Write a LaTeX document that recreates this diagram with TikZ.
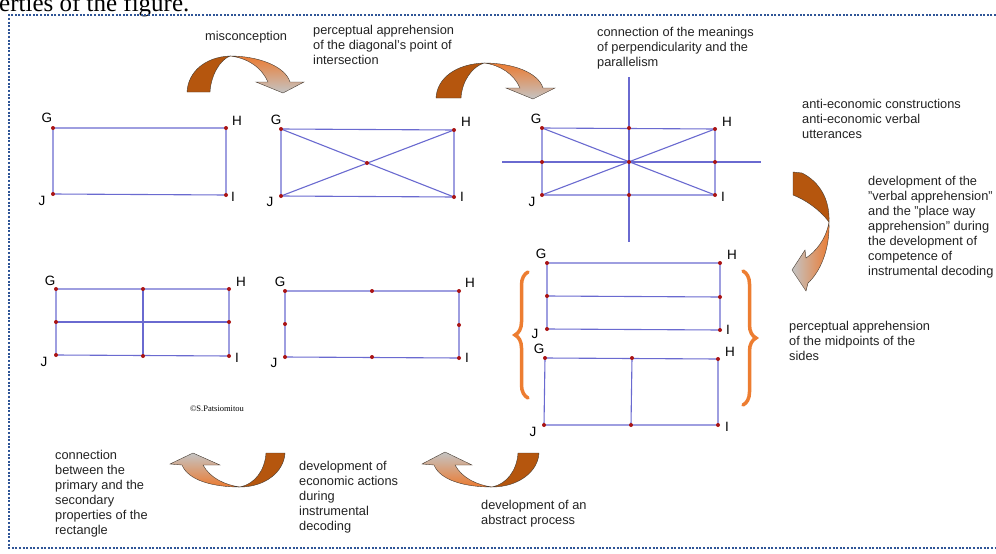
\documentclass[tikz,border=0pt]{standalone}
\usepackage{fontspec}
\setmainfont{Liberation Sans}
\newfontfamily\serifrm{Liberation Serif}
\usetikzlibrary{decorations.pathreplacing}
\definecolor{lineblue}{RGB}{106,106,208}
\definecolor{dotred}{RGB}{170,20,20}
\definecolor{darkorange}{RGB}{181,86,14}
\definecolor{midorange}{RGB}{235,122,48}
\definecolor{lightgray}{RGB}{196,196,196}
\definecolor{edgegray}{RGB}{70,60,50}
\definecolor{braceorange}{RGB}{237,125,49}
\definecolor{frameblue}{RGB}{47,85,151}
\definecolor{textgray}{RGB}{35,35,35}
\tikzstyle{side} = [draw=lineblue, line width=1.1pt]
\tikzstyle{dot} = [fill=dotred]
\tikzstyle{vtx} = [inner sep=0pt, font=\fontsize{13.5}{13.5}\selectfont]
\tikzstyle{note} = [anchor=north west, align=left, inner sep=0pt, text=textgray, font=\fontsize{12.8}{15}\selectfont]
\tikzstyle{band} = [fill=darkorange, draw=edgegray, line width=0.4pt]
\tikzstyle{headpart} = [draw=edgegray, line width=0.4pt]
\tikzstyle{curly} = [draw=braceorange, line width=3.5pt, line cap=round, decorate, decoration={brace, amplitude=13pt}]
\tikzstyle{outerframe} = [draw=frameblue, line width=2.8pt, dash pattern=on 2pt off 1.6pt]

\begin{document}
\begin{tikzpicture}[x=1pt, y=-1pt]

\clip (0,0) rectangle (996,554);
\fill [white] (0,0) rectangle (996,554);

\node (cut) [anchor=base west, inner sep=0pt, font=\serifrm\fontsize{25}{25}\selectfont] at (-1,11) {erties of the figure.};
\draw [outerframe] (996,15) -- (9,15) -- (9,548) -- (996,548);

\coordinate (g1) at (53,128);
\coordinate (h1) at (226,128);
\coordinate (i1) at (226,195);
\coordinate (j1) at (53,194);
\draw [side] (g1) -- (h1) -- (i1) -- (j1) -- cycle;
\fill [dot] (g1) circle [radius=2pt];
\fill [dot] (h1) circle [radius=2pt];
\fill [dot] (i1) circle [radius=2pt];
\fill [dot] (j1) circle [radius=2pt];
\node (lg1) [vtx] at (47,118) {G};
\node (lh1) [vtx] at (237,121) {H};
\node (li1) [vtx] at (233,197) {I};
\node (lj1) [vtx] at (42,201) {J};

\coordinate (g2) at (281,129);
\coordinate (h2) at (454,130);
\coordinate (i2) at (454,197);
\coordinate (j2) at (281,196);
\coordinate (m2) at (367,163);
\draw [side] (g2) -- (h2) -- (i2) -- (j2) -- cycle;
\draw [side] (g2) -- (i2);
\draw [side] (h2) -- (j2);
\fill [dot] (g2) circle [radius=2pt];
\fill [dot] (h2) circle [radius=2pt];
\fill [dot] (i2) circle [radius=2pt];
\fill [dot] (j2) circle [radius=2pt];
\fill [dot] (m2) circle [radius=2pt];
\node (lg2) [vtx] at (276,120) {G};
\node (lh2) [vtx] at (466,122) {H};
\node (li2) [vtx] at (462,197) {I};
\node (lj2) [vtx] at (270,202) {J};

\coordinate (g3) at (542,128);
\coordinate (h3) at (715,129);
\coordinate (i3) at (715,195);
\coordinate (j3) at (542,195);
\coordinate (m3) at (629,162);
\coordinate (t3) at (629,128);
\coordinate (b3) at (629,195);
\coordinate (l3) at (542,162);
\coordinate (r3) at (715,162);
\coordinate (vtop) at (629,77);
\coordinate (vbot) at (629,242);
\coordinate (hlft) at (502,162);
\coordinate (hrgt) at (761,162);
\draw [side] (g3) -- (h3) -- (i3) -- (j3) -- cycle;
\draw [side] (g3) -- (i3);
\draw [side] (h3) -- (j3);
\draw [side] (vtop) -- (vbot);
\draw [side] (hlft) -- (hrgt);
\fill [dot] (g3) circle [radius=2pt];
\fill [dot] (h3) circle [radius=2pt];
\fill [dot] (i3) circle [radius=2pt];
\fill [dot] (j3) circle [radius=2pt];
\fill [dot] (m3) circle [radius=2pt];
\fill [dot] (t3) circle [radius=2pt];
\fill [dot] (b3) circle [radius=2pt];
\fill [dot] (l3) circle [radius=2pt];
\fill [dot] (r3) circle [radius=2pt];
\node (lg3) [vtx] at (536,119) {G};
\node (lh3) [vtx] at (727,122) {H};
\node (li3) [vtx] at (723,197) {I};
\node (lj3) [vtx] at (532,202) {J};

\coordinate (g4) at (56,289);
\coordinate (h4) at (229,289);
\coordinate (i4) at (229,356);
\coordinate (j4) at (56,355);
\coordinate (t4) at (143,289);
\coordinate (b4) at (143,356);
\coordinate (l4) at (56,322);
\coordinate (r4) at (229,322);
\draw [side] (g4) -- (h4) -- (i4) -- (j4) -- cycle;
\draw [side] (t4) -- (b4);
\draw [side] (l4) -- (r4);
\fill [dot] (g4) circle [radius=2pt];
\fill [dot] (h4) circle [radius=2pt];
\fill [dot] (i4) circle [radius=2pt];
\fill [dot] (j4) circle [radius=2pt];
\fill [dot] (t4) circle [radius=2pt];
\fill [dot] (b4) circle [radius=2pt];
\fill [dot] (l4) circle [radius=2pt];
\fill [dot] (r4) circle [radius=2pt];
\node (lg4) [vtx] at (50,281) {G};
\node (lh4) [vtx] at (241,282) {H};
\node (li4) [vtx] at (237,358) {I};
\node (lj4) [vtx] at (44,362) {J};

\coordinate (g5) at (285,291);
\coordinate (h5) at (459,291);
\coordinate (i5) at (459,358);
\coordinate (j5) at (285,357);
\coordinate (t5) at (372,291);
\coordinate (b5) at (372,357);
\coordinate (l5) at (285,324);
\coordinate (r5) at (459,325);
\draw [side] (g5) -- (h5) -- (i5) -- (j5) -- cycle;
\fill [dot] (g5) circle [radius=2pt];
\fill [dot] (h5) circle [radius=2pt];
\fill [dot] (i5) circle [radius=2pt];
\fill [dot] (j5) circle [radius=2pt];
\fill [dot] (t5) circle [radius=2pt];
\fill [dot] (b5) circle [radius=2pt];
\fill [dot] (l5) circle [radius=2pt];
\fill [dot] (r5) circle [radius=2pt];
\node (lg5) [vtx] at (280,282) {G};
\node (lh5) [vtx] at (470,283) {H};
\node (li5) [vtx] at (467,358) {I};
\node (lj5) [vtx] at (274,363) {J};

\coordinate (g6) at (547,263);
\coordinate (h6) at (720,263);
\coordinate (i6) at (720,330);
\coordinate (j6) at (547,329);
\coordinate (l6) at (547,296);
\coordinate (r6) at (720,297);
\draw [side] (g6) -- (h6) -- (i6) -- (j6) -- cycle;
\draw [side] (l6) -- (r6);
\fill [dot] (g6) circle [radius=2pt];
\fill [dot] (h6) circle [radius=2pt];
\fill [dot] (i6) circle [radius=2pt];
\fill [dot] (j6) circle [radius=2pt];
\fill [dot] (l6) circle [radius=2pt];
\fill [dot] (r6) circle [radius=2pt];
\node (lg6) [vtx] at (541,254) {G};
\node (lh6) [vtx] at (732,255) {H};
\node (li6) [vtx] at (728,330) {I};
\node (lj6) [vtx] at (535,334) {J};

\coordinate (g7) at (545,358);
\coordinate (h7) at (718,359);
\coordinate (i7) at (718,425);
\coordinate (j7) at (544,425);
\coordinate (t7) at (632,358);
\coordinate (b7) at (631,425);
\draw [side] (g7) -- (h7) -- (i7) -- (j7) -- cycle;
\draw [side] (t7) -- (b7);
\fill [dot] (g7) circle [radius=2pt];
\fill [dot] (h7) circle [radius=2pt];
\fill [dot] (i7) circle [radius=2pt];
\fill [dot] (j7) circle [radius=2pt];
\fill [dot] (t7) circle [radius=2pt];
\fill [dot] (b7) circle [radius=2pt];
\node (lg7) [vtx] at (539,349) {G};
\node (lh7) [vtx] at (730,352) {H};
\node (li7) [vtx] at (727,427) {I};
\node (lj7) [vtx] at (533,432) {J};

\draw [curly] (528,398) -- (528,272);
\draw [curly] (743,271) -- (743,405);

\draw [band] (187,92) .. controls (188,72) and (205,57) .. (230,56) .. controls (220,60) and (211,75) .. (210,92) -- cycle;
\shadedraw [headpart, top color=midorange, bottom color=lightgray] (230,56) .. controls (258,56) and (285,66) .. (290,82) -- (304,82) -- (283,93) -- (256,82) -- (268,82) .. controls (262,68) and (248,58) .. (230,56) -- cycle;

\draw [band] (436,98) .. controls (437,78) and (456,64) .. (484,63) .. controls (472,67) and (462,81) .. (461,98) -- cycle;
\shadedraw [headpart, top color=midorange, bottom color=lightgray] (484,63) .. controls (512,63) and (538,72) .. (543,88) -- (555,88) -- (533,99) -- (506,88) -- (520,88) .. controls (514,74) and (500,65) .. (484,63) -- cycle;

\draw [band] (793,172) -- (802,173) .. controls (820,182) and (830,200) .. (829,222) .. controls (820,210) and (806,200) .. (793,195) -- cycle;
\shadedraw [headpart, left color=lightgray, right color=midorange] (829,222) .. controls (830,250) and (820,272) .. (808,283) -- (806,291) -- (792,270) -- (805,250) -- (806,258) .. controls (815,252) and (826,240) .. (829,222) -- cycle;

\draw [band] (285,453) .. controls (284,472) and (265,487) .. (240,487) .. controls (255,484) and (265,470) .. (266,453) -- cycle;
\shadedraw [headpart, top color=lightgray, bottom color=midorange] (240,487) .. controls (212,487) and (188,480) .. (182,465) -- (170,464) -- (193,453) -- (220,465) -- (203,465) .. controls (210,478) and (225,485) .. (240,487) -- cycle;

\draw [band] (539,453) .. controls (538,472) and (518,487) .. (492,487) .. controls (507,484) and (517,470) .. (518,453) -- cycle;
\shadedraw [headpart, top color=lightgray, bottom color=midorange] (492,487) .. controls (464,487) and (440,480) .. (434,465) -- (422,464) -- (445,452) -- (472,465) -- (455,465) .. controls (462,478) and (477,485) .. (492,487) -- cycle;

\node (misc) [note] at (205,31) {misconception};
\node (diag) [note] at (313,25) {perceptual apprehension\\of the diagonal's point of\\intersection};
\node (perp) [note] at (597,27) {connection of the meanings\\of perpendicularity and the\\parallelism};
\node (anti) [note] at (802,99) {anti-economic constructions\\anti-economic verbal\\utterances};
\node (verb) [note] at (868,176) {development of the\\"verbal apprehension"\\and the "place way\\apprehension" during\\the development of\\competence of\\instrumental decoding};
\node (midp) [note] at (789,321) {perceptual apprehension\\of the midpoints of the\\sides};
\node (prim) [note] at (55,450) {connection\\between the\\primary and the\\secondary\\properties of the\\rectangle};
\node (econ) [note] at (299,461) {development of\\economic actions\\during\\instrumental\\decoding};
\node (abst) [note] at (481,500) {development of an\\abstract process};
\node (copy) [inner sep=0pt, font=\serifrm\fontsize{8.5}{9}\selectfont] at (217,409) {\textcopyright S.Patsiomitou};

\end{tikzpicture}
\end{document}
